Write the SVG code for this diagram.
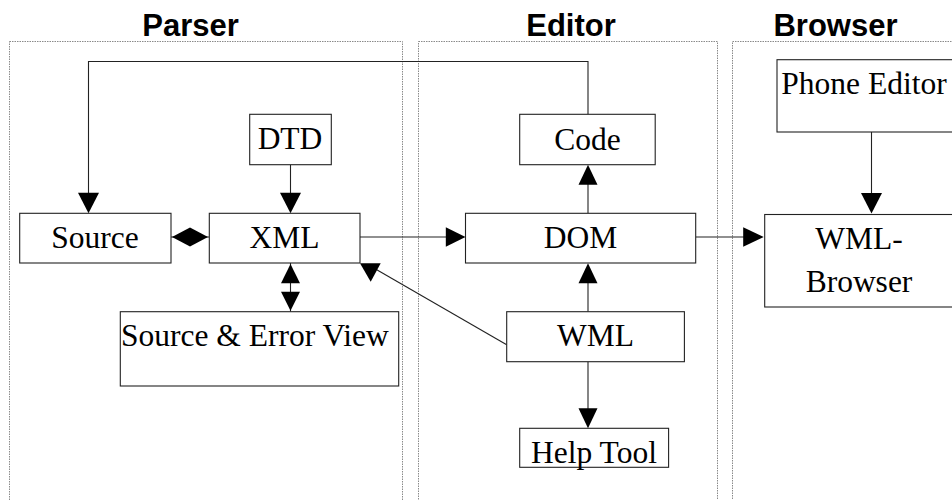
<svg xmlns="http://www.w3.org/2000/svg" width="952" height="500" viewBox="0 0 952 500">
  <style>
    .lane { fill: none; stroke: #8a8a8a; stroke-width: 1; stroke-dasharray: 1.5 1; }
    .title { font-family: "Liberation Sans", Arial, sans-serif; font-weight: bold; font-size: 31px; fill: #000; text-anchor: middle; }
    .box { fill: #fff; stroke: #222; stroke-width: 1.1; }
    .lbl { font-family: "Liberation Serif", "Times New Roman", serif; font-size: 31.5px; fill: #000; }
    .mid { text-anchor: middle; }
    .conn { fill: none; stroke: #222; stroke-width: 1.1; }
    .head { fill: #000; stroke: none; }
  </style>

  <!-- swimlanes -->
  <g id="lanes">
    <rect class="lane" x="9.5" y="41.5" width="393" height="480"/>
    <rect class="lane" x="418.5" y="41.5" width="299" height="480"/>
    <rect class="lane" x="732.5" y="41.5" width="240" height="480"/>
    <text class="title" x="190.5" y="36">Parser</text>
    <text class="title" x="571" y="36">Editor</text>
    <text class="title" x="835.5" y="36">Browser</text>
  </g>

  <!-- connectors -->
  <g id="connectors">
    <!-- Code back to Source -->
    <polyline class="conn" points="588,114.5 588,61.5 88.5,61.5 88.5,195"/>
    <polygon class="head" points="78,192.7 99,192.7 88.5,213.3"/>
    <!-- DTD to XML -->
    <line class="conn" x1="290.5" y1="164.7" x2="290.5" y2="195"/>
    <polygon class="head" points="280,192.7 301,192.7 290.5,213.3"/>
    <!-- Source / XML -->
    <line class="conn" x1="171" y1="237" x2="209.3" y2="237"/>
    <polygon class="head" points="172,237 190,227.5 208,237 190,246.5"/>
    <!-- XML / Source & Error View -->
    <line class="conn" x1="290.5" y1="263" x2="290.5" y2="311.7"/>
    <polygon class="head" points="290.5,264 281,283.3 300,283.3"/>
    <polygon class="head" points="281,291.7 300,291.7 290.5,310.7"/>
    <!-- XML to DOM -->
    <line class="conn" x1="360" y1="237" x2="447" y2="237"/>
    <polygon class="head" points="445.8,227.3 465.5,237 445.8,246.7"/>
    <!-- DOM to Code -->
    <line class="conn" x1="588" y1="213.3" x2="588" y2="182"/>
    <polygon class="head" points="588,164.7 578.5,184.7 597.5,184.7"/>
    <!-- WML to DOM -->
    <line class="conn" x1="588" y1="311.7" x2="588" y2="281"/>
    <polygon class="head" points="588,263.3 578.5,283.3 597.5,283.3"/>
    <!-- WML to Help Tool -->
    <line class="conn" x1="588" y1="361.7" x2="588" y2="410"/>
    <polygon class="head" points="578.5,408.3 597.5,408.3 588,428.3"/>
    <!-- WML to XML -->
    <line class="conn" x1="506.7" y1="344.7" x2="372" y2="267"/>
    <polygon class="head" points="360,263.3 380.7,263.3 370.7,281.7"/>
    <!-- DOM to WML-Browser -->
    <line class="conn" x1="695.7" y1="237" x2="745" y2="237"/>
    <polygon class="head" points="743.2,227.3 763.7,237 743.2,246.7"/>
    <!-- Phone Editor to WML-Browser -->
    <line class="conn" x1="871.5" y1="132" x2="871.5" y2="195"/>
    <polygon class="head" points="861,193 882,193 871.5,213.5"/>
  </g>

  <g id="dtd">
    <rect class="box" x="249.7" y="114.3" width="81.6" height="50.4"/>
    <text class="lbl mid" x="290" y="149">DTD</text>
  </g>
  <g id="source">
    <rect class="box" x="19.7" y="213.3" width="151.3" height="49.7"/>
    <text class="lbl mid" x="95" y="248.3">Source</text>
  </g>
  <g id="xml">
    <rect class="box" x="209.3" y="213.3" width="150.7" height="49.7"/>
    <text class="lbl mid" x="284.5" y="248.3">XML</text>
  </g>
  <g id="source-error-view">
    <rect class="box" x="120.3" y="311.7" width="278.4" height="74.3"/>
    <text class="lbl" x="121" y="345.7">Source &amp; Error View</text>
  </g>
  <g id="code">
    <rect class="box" x="519.7" y="114.3" width="135.5" height="50.4"/>
    <text class="lbl mid" x="587.5" y="149.5">Code</text>
  </g>
  <g id="dom">
    <rect class="box" x="465.5" y="213.3" width="230.2" height="49.7"/>
    <text class="lbl mid" x="580.5" y="248.3">DOM</text>
  </g>
  <g id="wml">
    <rect class="box" x="506.7" y="311.7" width="177.7" height="50"/>
    <text class="lbl mid" x="595.5" y="345.7">WML</text>
  </g>
  <g id="help-tool">
    <rect class="box" x="519.7" y="428.3" width="148.9" height="39"/>
    <text class="lbl mid" x="594" y="462.7">Help Tool</text>
  </g>
  <g id="phone-editor">
    <rect class="box" x="777" y="59.7" width="190" height="72.3"/>
    <text class="lbl" x="781.3" y="93.5">Phone Editor</text>
  </g>
  <g id="wml-browser">
    <rect class="box" x="764.7" y="214.5" width="200" height="92.5"/>
    <text class="lbl mid" x="859" y="249">WML-</text>
    <text class="lbl mid" x="859" y="292">Browser</text>
  </g>
</svg>
